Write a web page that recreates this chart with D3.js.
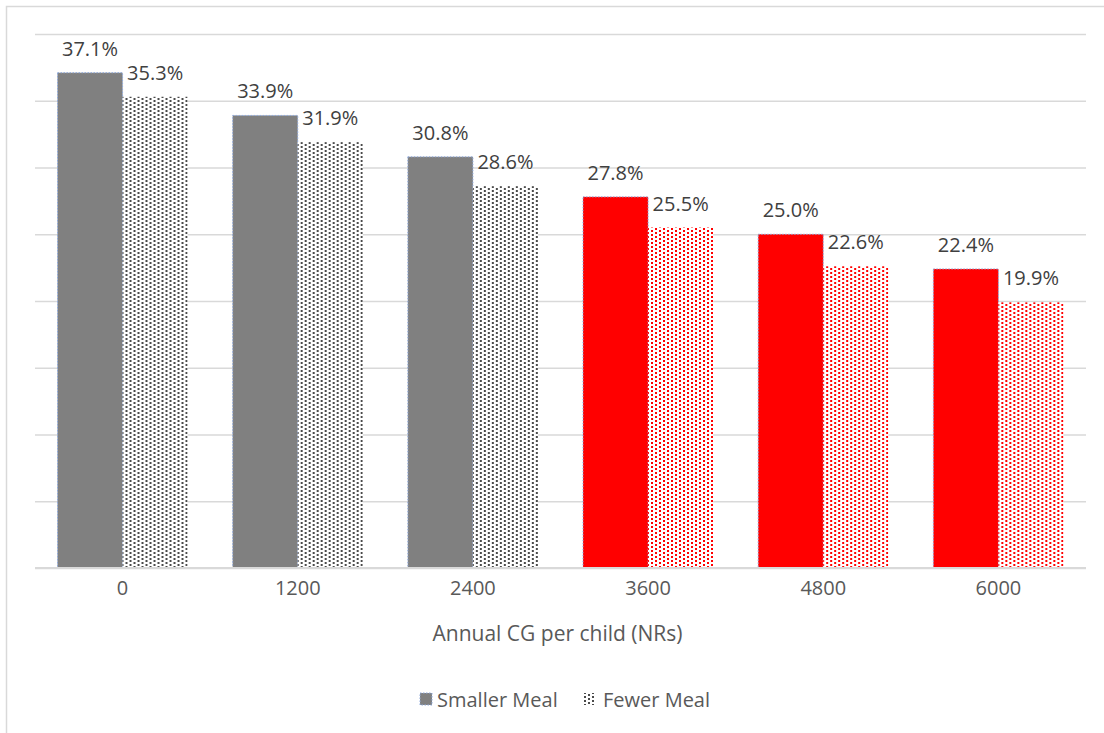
<!DOCTYPE html>
<html>
<head>
<meta charset="utf-8">
<script src="https://cdn.jsdelivr.net/npm/d3@7"></script>
<style>
  html, body { margin: 0; padding: 0; background: #fff; }
  svg text { font-family: "Open Sans", "Liberation Sans", sans-serif; fill: #595959; }
</style>
</head>
<body>
<svg id="chart" width="1104" height="733"></svg>
<script>
// Child grant amounts (NRs per year) and share of children facing each food coping strategy (%)
const categories = ["0", "1200", "2400", "3600", "4800", "6000"];
const smallerMeal = [37.1, 33.9, 30.8, 27.8, 25.0, 22.4];
const fewerMeal = [35.3, 31.9, 28.6, 25.5, 22.6, 19.9];
const barColors = ["#808080", "#808080", "#808080", "#ff0000", "#ff0000", "#ff0000"];
const seriesNames = ["Smaller Meal", "Fewer Meal"];
const yTicks = [0, 5, 10, 15, 20, 25, 30, 35, 40];

const svg = d3.select("#chart");
const W = 1104, H = 733;
const plot = { left: 35, right: 1086, top: 34, bottom: 568 };

// chart frame
svg.append("rect")
  .attr("x", 6.5).attr("y", 6.5)
  .attr("width", W + 20).attr("height", H + 20)
  .attr("fill", "#fff").attr("stroke", "#d9d9d9").attr("stroke-width", 1.5);

// dotted fill patterns, one per bar colour
const defs = svg.append("defs");
const uniqueColors = Array.from(new Set(barColors));
uniqueColors.forEach((c, i) => {
  const p = defs.append("pattern")
    .attr("id", "dots" + i)
    .attr("patternUnits", "userSpaceOnUse")
    .attr("width", 8).attr("height", 4);
  p.append("rect").attr("width", 8).attr("height", 4).attr("fill", "#fff");
  const dotColor = c === "#808080" ? "#4a4a4a" : c;
  p.append("rect").attr("x", 0).attr("y", 0).attr("width", 2).attr("height", 2).attr("fill", dotColor);
  p.append("rect").attr("x", 4).attr("y", 2).attr("width", 2).attr("height", 2).attr("fill", dotColor);
});
const patternFor = c => "url(#dots" + uniqueColors.indexOf(c) + ")";

const x0 = d3.scaleBand().domain(categories).range([plot.left, plot.right]).paddingInner(0.257).paddingOuter(0.1285);
const x1 = d3.scaleBand().domain(seriesNames).range([0, x0.bandwidth()]);
const y = d3.scaleLinear().domain([0, 40]).range([plot.bottom, plot.top]);

// horizontal gridlines
const yAxis = d3.axisLeft(y).tickValues(yTicks).tickSize(-(plot.right - plot.left)).tickFormat("");
const gy = svg.append("g").attr("transform", `translate(${plot.left},0)`).call(yAxis);
gy.select(".domain").remove();
gy.selectAll(".tick line").attr("stroke", "#d9d9d9").attr("stroke-width", 1.6);

// bars
const groups = svg.append("g").selectAll("g")
  .data(categories)
  .join("g")
  .attr("transform", d => `translate(${x0(d)},0)`);

groups.append("rect")
  .attr("x", x1("Smaller Meal"))
  .attr("y", (d, i) => y(smallerMeal[i]))
  .attr("width", x1.bandwidth())
  .attr("height", (d, i) => y(0) - y(smallerMeal[i]))
  .attr("fill", (d, i) => barColors[i])
  .attr("stroke", "#8faadc").attr("stroke-width", 1).attr("stroke-dasharray", "1.5,1.5");

groups.append("rect")
  .attr("x", x1("Fewer Meal"))
  .attr("y", (d, i) => y(fewerMeal[i]))
  .attr("width", x1.bandwidth())
  .attr("height", (d, i) => y(0) - y(fewerMeal[i]))
  .attr("fill", (d, i) => patternFor(barColors[i]));

// value labels
groups.append("text")
  .attr("x", x1("Smaller Meal") + x1.bandwidth() / 2)
  .attr("y", (d, i) => y(smallerMeal[i]) - 17)
  .attr("text-anchor", "middle").attr("font-size", 20).style("fill", "#404040")
  .text((d, i) => smallerMeal[i].toFixed(1) + "%");

groups.append("text")
  .attr("x", x1("Fewer Meal") + x1.bandwidth() / 2)
  .attr("y", (d, i) => y(fewerMeal[i]) - 17)
  .attr("text-anchor", "middle").attr("font-size", 20).style("fill", "#404040")
  .text((d, i) => fewerMeal[i].toFixed(1) + "%");

// category axis
const xAxis = d3.axisBottom(x0).tickSize(0).tickPadding(13);
const gx = svg.append("g").attr("transform", `translate(0,${plot.bottom})`).call(xAxis);
gx.select(".domain").attr("stroke", "#d9d9d9").attr("stroke-width", 2)
  .attr("d", `M${plot.left},0H${plot.right}`);
gx.selectAll("text").attr("font-size", 20).attr("fill", "#595959")
  .attr("font-family", "'Open Sans', 'Liberation Sans', sans-serif");

// axis title
svg.append("text")
  .attr("x", (plot.left + plot.right) / 2 - 3).attr("y", 641)
  .attr("text-anchor", "middle").attr("font-size", 21)
  .text("Annual CG per child (NRs)");

// legend
const legend = svg.append("g");
legend.append("rect").attr("x", 420).attr("y", 693).attr("width", 12).attr("height", 12)
  .attr("fill", "#808080").attr("stroke", "#8faadc").attr("stroke-dasharray", "1.5,1.5");
legend.append("text").attr("x", 437).attr("y", 707).attr("font-size", 20).text(seriesNames[0]);
legend.append("rect").attr("x", 584).attr("y", 693).attr("width", 12).attr("height", 12)
  .attr("fill", patternFor("#808080"));
legend.append("text").attr("x", 603).attr("y", 707).attr("font-size", 20).text(seriesNames[1]);
</script>
</body>
</html>
